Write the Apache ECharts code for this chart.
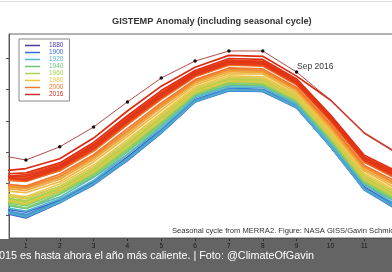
<!DOCTYPE html>
<html><head><meta charset="utf-8">
<script src="https://cdn.jsdelivr.net/npm/echarts@6/dist/echarts.min.js"></script>
<style>html,body{margin:0;padding:0;background:#fff;overflow:hidden}#c{width:392px;height:272px}</style>
</head><body><div id="c"></div>
<script>
// ---- data ----
const monthTicks = [1,2,3,4,5,6,7,8,9,10,11,12];
const yTicks = [11,12,13,14,15,16];
// MERRA2 seasonal cycle (baseline), Jan..Dec
const climatology = [11.47, 11.87, 12.47, 13.27, 14.12, 14.98, 15.34, 15.31, 14.76, 13.56, 12.22, 11.62];
// monthly anomalies, Jan..Dec
const y1880 = [-0.52,-0.40,-0.47,-0.44,-0.48,-0.31,-0.36,-0.32,-0.28,-0.36,-0.34,-0.43];
const y1884 = [-0.54,-0.46,-0.43,-0.52,-0.48,-0.33,-0.38,-0.34,-0.33,-0.34,-0.40,-0.41];
const y1888 = [-0.49,-0.37,-0.45,-0.43,-0.40,-0.33,-0.31,-0.34,-0.27,-0.34,-0.33,-0.37];
const y1893 = [-0.56,-0.48,-0.47,-0.53,-0.50,-0.37,-0.36,-0.38,-0.32,-0.38,-0.39,-0.47];
const y1900 = [-0.38,-0.41,-0.38,-0.46,-0.40,-0.31,-0.30,-0.32,-0.29,-0.30,-0.35,-0.36];
const y1904 = [-0.53,-0.45,-0.49,-0.51,-0.50,-0.36,-0.37,-0.36,-0.33,-0.37,-0.40,-0.44];
const y1907 = [-0.49,-0.42,-0.47,-0.48,-0.45,-0.35,-0.34,-0.35,-0.30,-0.35,-0.38,-0.41];
const y1909 = [-0.54,-0.48,-0.51,-0.54,-0.51,-0.38,-0.39,-0.38,-0.35,-0.38,-0.42,-0.46];
const y1912 = [-0.45,-0.44,-0.46,-0.47,-0.46,-0.33,-0.35,-0.34,-0.31,-0.34,-0.37,-0.41];
const y1917 = [-0.52,-0.46,-0.47,-0.50,-0.48,-0.36,-0.36,-0.35,-0.33,-0.37,-0.39,-0.43];
const y1920 = [-0.34,-0.36,-0.37,-0.35,-0.36,-0.25,-0.28,-0.25,-0.24,-0.28,-0.26,-0.32];
const y1926 = [-0.26,-0.30,-0.27,-0.34,-0.29,-0.20,-0.23,-0.20,-0.20,-0.20,-0.24,-0.24];
const y1931 = [-0.26,-0.21,-0.23,-0.26,-0.23,-0.18,-0.17,-0.18,-0.15,-0.17,-0.20,-0.21];
const y1937 = [-0.17,-0.13,-0.16,-0.16,-0.17,-0.11,-0.12,-0.12,-0.11,-0.12,-0.12,-0.15];
const y1940 = [-0.04,-0.06,-0.04,-0.06,-0.05,-0.03,-0.04,-0.04,-0.03,-0.04,-0.03,-0.05];
const y1944 = [0.06,0.04,0.05,0.06,0.04,0.04,0.03,0.04,0.03,0.04,0.04,0.05];
const y1950 = [-0.25,-0.19,-0.22,-0.22,-0.23,-0.15,-0.17,-0.17,-0.14,-0.17,-0.18,-0.19];
const y1953 = [-0.05,-0.03,-0.04,-0.05,-0.03,-0.03,-0.02,-0.03,-0.03,-0.02,-0.04,-0.03];
const y1956 = [-0.15,-0.13,-0.14,-0.15,-0.13,-0.11,-0.10,-0.11,-0.08,-0.10,-0.11,-0.13];
const y1960 = [-0.01,-0.03,-0.02,-0.01,-0.03,-0.01,-0.02,-0.01,-0.02,-0.01,-0.02,-0.02];
const y1965 = [-0.13,-0.11,-0.12,-0.11,-0.12,-0.09,-0.09,-0.09,-0.08,-0.09,-0.10,-0.11];
const y1968 = [-0.07,-0.05,-0.06,-0.07,-0.05,-0.04,-0.05,-0.04,-0.04,-0.05,-0.04,-0.06];
const y1974 = [-0.10,-0.08,-0.09,-0.08,-0.10,-0.06,-0.07,-0.07,-0.06,-0.06,-0.07,-0.08];
const y1977 = [0.05,0.03,0.04,0.05,0.04,0.03,0.03,0.03,0.02,0.03,0.03,0.04];
const y1980 = [0.11,0.12,0.12,0.13,0.11,0.09,0.09,0.09,0.08,0.09,0.10,0.11];
const y1983 = [0.24,0.19,0.22,0.23,0.21,0.16,0.16,0.17,0.14,0.16,0.18,0.19];
const y1988 = [0.31,0.27,0.30,0.31,0.30,0.22,0.22,0.22,0.20,0.22,0.23,0.27];
const y1991 = [0.37,0.33,0.35,0.38,0.35,0.26,0.27,0.26,0.24,0.26,0.29,0.31];
const y1995 = [0.41,0.36,0.40,0.41,0.39,0.29,0.30,0.29,0.26,0.29,0.32,0.35];
const y1998 = [0.60,0.54,0.56,0.61,0.56,0.42,0.43,0.43,0.38,0.42,0.46,0.51];
const y2000 = [0.45,0.43,0.45,0.48,0.45,0.33,0.34,0.34,0.30,0.34,0.36,0.41];
const y2002 = [0.62,0.54,0.59,0.62,0.59,0.43,0.45,0.44,0.40,0.44,0.47,0.53];
const y2003 = [0.61,0.58,0.61,0.64,0.60,0.45,0.46,0.46,0.41,0.45,0.49,0.54];
const y2005 = [0.71,0.64,0.69,0.73,0.68,0.50,0.52,0.52,0.46,0.51,0.55,0.62];
const y2006 = [0.64,0.62,0.64,0.69,0.65,0.48,0.48,0.49,0.44,0.48,0.52,0.58];
const y2007 = [0.76,0.65,0.70,0.74,0.71,0.52,0.53,0.53,0.47,0.53,0.57,0.63];
const y2009 = [0.65,0.61,0.66,0.68,0.64,0.47,0.49,0.49,0.43,0.48,0.52,0.58];
const y2010 = [0.82,0.74,0.78,0.83,0.78,0.58,0.59,0.59,0.53,0.58,0.63,0.70];
const y2011 = [0.63,0.60,0.62,0.67,0.62,0.46,0.47,0.47,0.42,0.47,0.51,0.56];
const y2012 = [0.69,0.65,0.68,0.73,0.69,0.50,0.52,0.52,0.46,0.51,0.55,0.62];
const y2013 = [0.77,0.70,0.74,0.79,0.74,0.55,0.56,0.56,0.50,0.55,0.60,0.67];
const y2014 = [0.87,0.79,0.84,0.89,0.84,0.62,0.64,0.64,0.57,0.63,0.68,0.75];
const y2015 = [1.01,0.92,0.98,1.04,0.98,0.72,0.74,0.74,0.66,1.10,1.39,1.33];
const bandYears = [1880,1884,1888,1893,1900,1904,1907,1909,1912,1917,1920,1926,1931,1937,1940,1944,1950,1953,1956,1960,1965,1968,1974,1977,1980,1983,1988,1991,1995,1998,2000,2002,2003,2005,2006,2007,2009,2010,2011,2012,2013,2014,2015];
const bandRows = [y1880,y1884,y1888,y1893,y1900,y1904,y1907,y1909,y1912,y1917,y1920,y1926,y1931,y1937,y1940,y1944,y1950,y1953,y1956,y1960,y1965,y1968,y1974,y1977,y1980,y1983,y1988,y1991,y1995,y1998,y2000,y2002,y2003,y2005,y2006,y2007,y2009,y2010,y2011,y2012,y2013,y2014,y2015];
// last 12 months (absolute), plotted at months 0..12: Dec 2015, Jan-Sep 2016, Oct-Dec 2015
const recentLabels = ['Dec 2015','Jan 2016','Feb 2016','Mar 2016','Apr 2016','May 2016','Jun 2016','Jul 2016','Aug 2016','Sep 2016','Oct 2015','Nov 2015','Dec 2015'];
const recentTemps = [12.95, 12.75, 13.17, 13.80, 14.60, 15.36, 15.90, 16.22, 16.22, 15.55, 14.66, 13.61, 12.95];
const legendYears = ['1880','1900','1920','1940','1960','1980','2000','2016'];

// ---- styling ----
const stops = [[1880,[72,60,170]],[1900,[55,105,212]],[1920,[85,180,205]],[1940,[105,198,125]],[1960,[165,210,80]],[1980,[236,200,70]],[2000,[242,120,45]],[2016,[222,35,15]]];
function colorOf(y){
  y = +y;
  for (let i=0;i<stops.length-1;i++){
    const a=stops[i], b=stops[i+1];
    if (y<=b[0]){
      const t=Math.max(0,(y-a[0])/(b[0]-a[0]));
      const c=a[1].map((v,k)=>Math.round(v+(b[1][k]-v)*t));
      return 'rgb('+c.join(',')+')';
    }
  }
  return 'rgb('+stops[stops.length-1][1].join(',')+')';
}
const FONT = 'Liberation Sans';

const series = bandRows.map((row,i)=>{
  const yr = bandYears[i];
  const prevIdx = bandYears.indexOf(yr-1);
  const prevDec = prevIdx>=0 ? bandRows[prevIdx][11] : row[11];
  const data = [[0, +(climatology[11]+prevDec).toFixed(3)]];
  for (let m=0;m<12;m++) data.push([m+1, +(climatology[m]+row[m]).toFixed(3)]);
  return {name:String(yr), type:'line', data, showSymbol:false, symbol:'none',
    lineStyle:{color:colorOf(yr), width:1.7}, itemStyle:{color:colorOf(yr)}, z:2, silent:true};
});
series.push({
  name:'2016', type:'line', z:5, silent:true,
  data: recentTemps.map((v,i)=>{
    const hasDot = i>=1 && i<=9;
    return {value:[i,v], symbol: hasDot?'circle':'none', symbolSize: hasDot?3.5:0, name: recentLabels[i]};
  }),
  showSymbol:true, lineStyle:{color:'#b44a48', width:1}, itemStyle:{color:'#111'}
});

const chart = echarts.init(document.getElementById('c'), null, {renderer:'canvas'});
chart.setOption({
  animation:false,
  backgroundColor:'#fff',
  textStyle:{fontFamily:FONT},
  title:{text:'GISTEMP Anomaly (including seasonal cycle)', left:112, top:17, padding:0,
    textStyle:{fontSize:9.2, fontWeight:'bold', color:'#333', fontFamily:FONT}},
  grid:{left:9, top:34, width:406, height:204, show:true, borderColor:'#666', borderWidth:1,
    backgroundColor:'transparent', outerBoundsMode:'none'},
  legend:{
    orient:'vertical', left:19, top:39, selectedMode:false,
    data: legendYears.map(n=>({name:n, itemStyle:{color: n==='2016' ? '#c8322a' : colorOf(n)}, textStyle:{color: n==='2016' ? '#c8322a' : colorOf(n)}})),
    icon:'rect', itemWidth:15, itemHeight:1.5, itemGap:0,
    padding:[3,6,3,6], borderColor:'#888', borderWidth:1, backgroundColor:'#fff',
    textStyle:{fontSize:6.5, lineHeight:6.6, fontFamily:FONT, padding:[0,0,0,4]}
  },
  xAxis:{type:'value', min:0.5, max:12.5,
    axisLine:{show:true, lineStyle:{color:'#555', width:1}},
    axisTick:{show:true, customValues:monthTicks, length:3, lineStyle:{color:'#555'}},
    axisLabel:{show:true, customValues:monthTicks, fontSize:6.5, color:'#222', margin:5, fontFamily:FONT},
    splitLine:{show:false}},
  yAxis:{type:'value', min:10.27, max:16.76,
    axisLine:{show:true, lineStyle:{color:'#555', width:1}},
    axisTick:{show:true, customValues:yTicks, length:3, lineStyle:{color:'#555'}},
    axisLabel:{show:false, customValues:yTicks},
    splitLine:{show:false}},
  series,
  graphic:[
    {type:'line', shape:{x1:0,y1:1.5,x2:392,y2:1.5}, style:{stroke:'#e2e2e2', lineWidth:1}, z:1},
    {type:'text', left:297, top:62, style:{text:'Sep 2016', font:'8.5px "Liberation Sans"', fill:'#333'}, z:10},
    {type:'text', left:172, top:226.5, style:{text:'Seasonal cycle from MERRA2. Figure: NASA GISS/Gavin Schmidt', font:'7.6px "Liberation Sans"', fill:'#333'}, z:10},
    {type:'rect', shape:{x:0,y:239,width:392,height:33}, style:{fill:'rgba(20,20,20,0.66)'}, z:100},
    {type:'text', left:-1, top:251, style:{text:'015 es hasta ahora el año más caliente. | Foto: @ClimateOfGavin', font:'10.8px "Liberation Sans"', fill:'#fff'}, z:101}
  ]
});
</script></body></html>
